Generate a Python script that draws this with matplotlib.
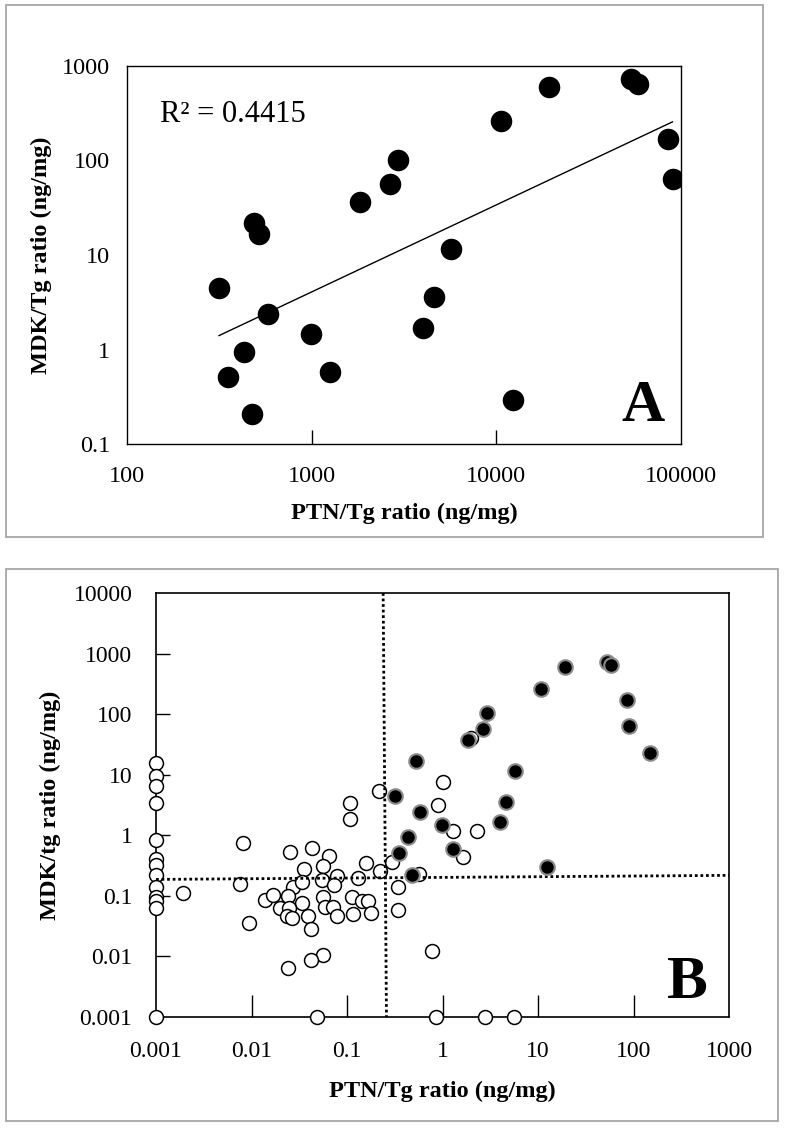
import matplotlib
matplotlib.use("Agg")
import matplotlib.pyplot as plt
from matplotlib.patches import Rectangle
import numpy as np

plt.rcParams["font.family"] = ["Liberation Serif", "DejaVu Serif"]

# ---- panel A data (PTN/Tg vs MDK/Tg, ng/mg)
ptn_a = [315, 352, 430, 474, 490, 521, 579, 995, 1262, 1833, 2662, 2924,
         3993, 4576, 5690, 10610, 12250, 19190, 53550, 58490, 84550, 89950]
mdk_a = [4.5, 0.51, 0.93, 0.21, 22, 16.6, 2.4, 1.47, 0.58, 36.8, 57, 102,
         1.68, 3.59, 11.6, 261, 0.29, 599, 726, 641, 170, 63.5]
r2_text = "R² = 0.4415"
ticks_a_x = [100, 1000, 10000, 100000]
ticks_a_y = [0.1, 1, 10, 100, 1000]

# ---- panel B data
# filled = high group
ptn_hi = [0.522, 0.317, 0.586, 0.995, 0.433, 0.351, 0.474, 1.28, 1.84, 2.66, 2.95,
          5.71, 4.60, 3.98, 12.3, 10.7, 19.1, 52.9, 58.8, 85.5, 89.8, 150]
mdk_hi = [16.8, 4.49, 2.40, 1.47, 0.927, 0.502, 0.218, 0.587, 36.9, 56.8, 103,
          11.6, 3.57, 1.68, 0.302, 257, 607, 733, 647, 171, 64.3, 22.5]

# open = other samples
ptn_lo = [0.001] * 13 + [0.0488, 0.863, 2.77, 5.58] + [
    0.107, 0.107, 0.216, 1.01, 0.90, 1.28, 2.32, 1.64, 2.01, 0.293, 0.565, 0.344, 0.341, 0.784,
    0.0082, 0.0019, 0.0075, 0.0094, 0.0256, 0.0435, 0.0647, 0.0354, 0.056, 0.159, 0.222,
    0.0274, 0.0335, 0.0542, 0.0778, 0.0734, 0.129, 0.0138, 0.0166, 0.0243, 0.0335, 0.0564,
    0.0588, 0.0711, 0.114, 0.142, 0.167, 0.0199, 0.0248, 0.0233, 0.0263, 0.0387, 0.0789,
    0.115, 0.178, 0.0416, 0.0566, 0.0424, 0.0243]
mdk_lo = [15.4, 9.4, 6.4, 3.4, 0.85, 0.41, 0.32, 0.22, 0.141, 0.096, 0.083, 0.064, 0.001] + \
    [0.001, 0.001, 0.001, 0.001] + [
    3.44, 1.87, 5.37, 7.56, 3.12, 1.19, 1.19, 0.436, 39.8, 0.368, 0.233, 0.141, 0.0575, 0.0124,
    0.735, 0.112, 0.155, 0.035, 0.534, 0.608, 0.448, 0.277, 0.306, 0.348, 0.259,
    0.141, 0.171, 0.182, 0.212, 0.151, 0.194, 0.085, 0.103, 0.099, 0.0767, 0.0964,
    0.0644, 0.0659, 0.0942, 0.0828, 0.0828, 0.0621, 0.0621, 0.0463, 0.0424, 0.0469, 0.0463,
    0.050, 0.0513, 0.0279, 0.0107, 0.00869, 0.00653]

# cut-off lines (dotted)
vline_x = [0.239, 0.259]
vline_y = [10000, 0.001]
hline_x = [0.001, 1000]
hline_y = [0.187, 0.218]
ticks_b_x = [0.001, 0.01, 0.1, 1, 10, 100, 1000]
ticks_b_y = [0.001, 0.01, 0.1, 1, 10, 100, 1000, 10000]


def fmt(v):
    return ("%g" % v) if v < 1 else str(int(v))


fig = plt.figure(figsize=(7.85, 11.28), dpi=100)
W, H = 785, 1128

# gray panel frames
fig.patches.append(Rectangle((6 / W, 1 - 537 / H), 757 / W, 532 / H, transform=fig.transFigure,
                             fill=False, edgecolor="#a6a6a6", linewidth=1.3))
fig.patches.append(Rectangle((6 / W, 1 - 1121 / H), 772 / W, 552 / H, transform=fig.transFigure,
                             fill=False, edgecolor="#a6a6a6", linewidth=1.3))

# ---------------- panel A
ax = fig.add_axes([127 / W, 1 - 444 / H, 554 / W, 378 / H])
ax.set_xscale("log")
ax.set_yscale("log")
ax.set_xlim(100, 100000)
ax.set_ylim(0.1, 1000)
ax.plot(ptn_a, mdk_a, "o", color="black", markersize=15.5, markeredgewidth=0, zorder=3)

# power trendline fitted in log space
b, a = np.polyfit(np.log10(ptn_a), np.log10(mdk_a), 1)
xx = np.array([min(ptn_a), max(ptn_a)])
ax.plot(xx, 10 ** a * xx ** b, color="black", linewidth=1.0, zorder=2)

ax.text(151, 255, r2_text, fontsize=22, va="baseline", ha="left")
ax.text(0.932, 0.061, "A", transform=ax.transAxes, fontsize=43, fontweight="bold",
        ha="center", va="baseline")

ax.set_xticks(ticks_a_x)
ax.set_xticklabels([fmt(v) for v in ticks_a_x])
ax.set_yticks(ticks_a_y)
ax.set_yticklabels([fmt(v) for v in ticks_a_y])
ax.minorticks_off()
ax.tick_params(axis="x", direction="in", length=10, width=1.0, labelsize=17.5, pad=16)
ax.tick_params(axis="y", length=0, labelsize=17.5, pad=12)
for t in ax.xaxis.get_major_ticks():
    if t.get_loc() in (100, 100000):
        t.tick1line.set_visible(False)
for s in ax.spines.values():
    s.set_linewidth(1.0)
ax.set_xlabel("PTN/Tg ratio (ng/mg)", fontsize=17.5, fontweight="bold", labelpad=11)
ax.set_ylabel("MDK/Tg ratio (ng/mg)", fontsize=17.5, fontweight="bold", labelpad=7)

# ---------------- panel B
bx = fig.add_axes([156 / W, 1 - 1017 / H, 573 / W, 424 / H])
bx.set_xscale("log")
bx.set_yscale("log")
bx.set_xlim(0.001, 1000)
bx.set_ylim(0.001, 10000)

bx.plot(ptn_lo, mdk_lo, "o", markerfacecolor="white", markeredgecolor="black",
        markersize=10, markeredgewidth=1.1, linestyle="none", clip_on=False, zorder=3)
bx.plot(vline_x, vline_y, color="black", linestyle=(0, (1, 1)), linewidth=2.0, zorder=4)
bx.plot(hline_x, hline_y, color="black", linestyle=(0, (1, 1)), linewidth=2.0, zorder=4)
bx.plot(ptn_hi, mdk_hi, "o", markerfacecolor="black", markeredgecolor="#8c8c8c",
        markersize=10.5, markeredgewidth=1.5, linestyle="none", clip_on=False, zorder=5)

bx.text(0.928, 0.045, "B", transform=bx.transAxes, fontsize=44, fontweight="bold",
        ha="center", va="baseline")

bx.set_xticks(ticks_b_x)
bx.set_xticklabels([fmt(v) for v in ticks_b_x])
bx.set_yticks(ticks_b_y)
bx.set_yticklabels([fmt(v) for v in ticks_b_y])
bx.minorticks_off()
bx.tick_params(axis="x", direction="in", length=16, width=1.0, labelsize=17, pad=17)
bx.tick_params(axis="y", direction="in", length=10, width=1.0, labelsize=17, pad=17)
for t in bx.xaxis.get_major_ticks():
    if t.get_loc() in (0.001, 1000):
        t.tick1line.set_visible(False)
for t in bx.yaxis.get_major_ticks():
    if t.get_loc() in (0.001, 10000):
        t.tick1line.set_visible(False)
for s in bx.spines.values():
    s.set_linewidth(1.2)
bx.set_xlabel("PTN/Tg ratio (ng/mg)", fontsize=17.5, fontweight="bold", labelpad=14)
bx.set_ylabel("MDK/tg ratio (ng/mg)", fontsize=17.5, fontweight="bold", labelpad=9)

fig.savefig("out.png", dpi=100)
